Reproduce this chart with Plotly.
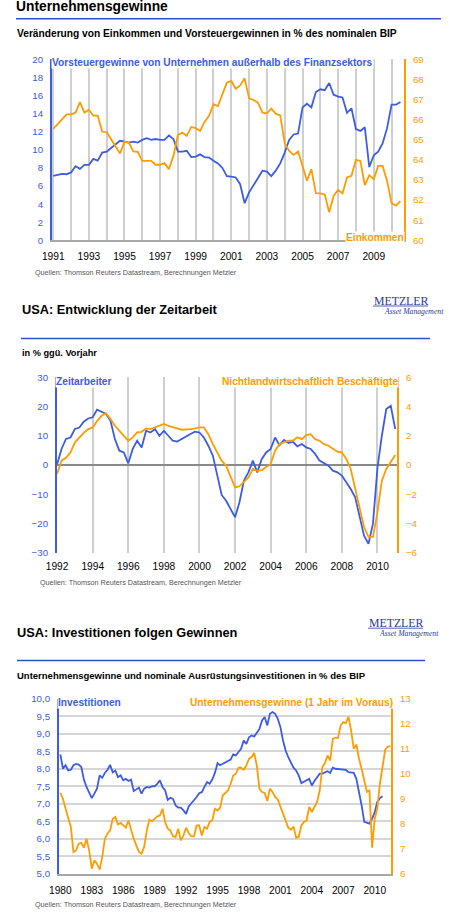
import pandas as pd
import plotly.graph_objects as go

W, H = 458, 919
BLUE = "#3d5ce0"
ORANGE = "#ff9c00"
RULE = "#3050c8"
GRID = "#cfcfcf"
FONT = "Liberation Sans, Arial, sans-serif"
SERIF = "Liberation Serif, Times New Roman, serif"

# --- Chart 1: Unternehmensgewinne (quarterly from 1991 Q1)
p1_start = "1991-01-01"
p1_gewinne = [7.13, 7.2, 7.35, 7.3, 7.5, 8.2, 7.9, 8.35, 8.35, 9.0, 8.8, 9.7, 9.8, 10.2, 10.6, 11.0,
              10.9, 10.8, 10.9, 10.8, 11.1, 11.3, 11.1, 11.2, 11.1, 11.1, 11.6, 11.2, 9.8, 9.8, 9.9, 9.2,
              9.25, 9.5, 9.2, 9.15, 8.8, 8.5, 8.0, 7.1, 7.05, 6.95, 6.2, 4.1, 5.3, 6.1, 6.8, 7.7,
              7.6, 7.1, 7.7, 8.5, 9.7, 11.1, 11.7, 11.8, 14.7, 15.1, 14.7, 16.4, 16.7, 16.6, 17.4, 16.1,
              15.9, 15.8, 14.1, 14.6, 12.3, 12.1, 12.5, 8.1, 9.4, 9.8, 10.7, 12.4, 15.0, 15.0, 15.3]
p1_einkommen = [65.55, 65.78, 66.0, 66.27, 66.27, 66.35, 66.88, 66.35, 66.5, 66.2, 66.2, 65.4, 65.38, 65.03,
                64.7, 64.32, 64.9, 64.86, 64.42, 64.4, 63.95, 63.95, 63.95, 63.76, 63.76, 63.84, 63.54, 64.2,
                65.24, 65.36, 65.2, 65.64, 65.58, 65.44, 65.89, 66.19, 66.77, 66.68, 67.26, 67.84, 67.93,
                67.54, 67.71, 68.06, 67.06, 66.98, 66.85, 66.35, 66.32, 66.55, 66.3, 66.22, 64.83, 64.45,
                64.25, 64.42, 63.7, 62.96, 63.54, 62.35, 62.33, 62.28, 61.39, 62.22, 62.51, 62.33, 63.13,
                63.21, 64.0, 63.95, 62.75, 63.24, 63.04, 63.7, 63.7, 62.96, 61.85, 61.72, 61.95]

# --- Chart 2: Zeitarbeit (quarterly from 1992 Q1)
p2_start = "1992-01-01"
p2_zeitarbeit = [0.3, 5.5, 8.9, 9.4, 12.3, 12.8, 14.8, 15.9, 16.3, 18.9, 18.2, 17.4, 15.1, 8.9, 4.9, 4.3,
                 0.6, 5.5, 8.3, 6.0, 11.7, 11.1, 12.3, 10.0, 11.7, 10.0, 8.3, 8.0, 8.9, 10.0, 10.6, 11.4,
                 11.1, 9.4, 6.6, 3.2, -3.6, -10.2, -12.2, -15.0, -17.8, -12.7, -5.3, -2.5, 1.5, -2.5, 2.0, 4.3,
                 5.5, 9.4, 6.8, 8.6, 7.5, 8.0, 6.4, 7.2, 6.0, 5.5, 3.8, 1.5, 0.7, -0.2, -1.9, -2.5,
                 -3.6, -5.9, -8.2, -11.0, -17.3, -24.1, -26.9, -20.0, -1.0, 10.0, 19.1, 20.2, 12.3]
p2_beschaeftigte = [-0.6, 0.3, 0.5, 0.86, 1.55, 1.9, 2.2, 2.45, 2.57, 3.0, 3.36, 3.52, 3.14, 2.68, 2.34, 2.05,
                    1.66, 1.89, 2.23, 2.27, 2.5, 2.45, 2.57, 2.68, 2.8, 2.68, 2.57, 2.5, 2.41, 2.41, 2.45, 2.5,
                    2.57, 2.57, 2.11, 1.43, 0.86, 0.3, -0.05, -0.73, -1.52, -1.45, -1.18, -0.84, -0.27, -0.39,
                    -0.34, -0.16, 0.07, 0.98, 1.43, 1.55, 1.66, 1.66, 1.89, 1.77, 2.05, 2.11, 1.77, 1.66,
                    1.43, 1.32, 1.09, 0.91, 0.86, 0.41, -0.27, -1.64, -3.0, -4.25, -4.9, -4.9, -3.23, -1.07,
                    -0.27, 0.18, 0.68]

# --- Chart 3: Investitionen vs. Gewinne (quarterly from 1980 Q1)
p3_start = "1980-01-01"
p3_invest = [8.41, 8.0, 8.1, 7.95, 7.97, 8.1, 8.14, 8.12, 8.05, 7.69, 7.48, 7.3, 7.16, 7.29, 7.43, 7.81,
             7.74, 7.88, 7.97, 8.11, 7.9, 7.95, 7.76, 7.81, 7.67, 7.71, 7.65, 7.69, 7.36, 7.41, 7.46, 7.29,
             7.43, 7.48, 7.46, 7.5, 7.5, 7.57, 7.67, 7.48, 7.38, 7.11, 7.17, 7.14, 6.95, 6.89, 6.89, 6.81,
             6.71, 6.92, 7.0, 7.1, 7.19, 7.3, 7.33, 7.48, 7.62, 7.57, 7.69, 7.88, 8.16, 8.1, 8.14, 8.2,
             8.24, 8.26, 8.41, 8.38, 8.48, 8.57, 8.81, 8.71, 8.9, 8.95, 8.92, 9.05, 9.14, 9.38, 9.48, 9.24,
             9.57, 9.62, 9.57, 9.43, 9.19, 8.81, 8.52, 8.33, 8.16, 8.03, 7.95, 7.81, 7.59, 7.62, 7.67, 7.71,
             7.52, 7.65, 7.76, 7.86, 7.86, 7.9, 7.93, 7.88, 8.03, 8.0, 7.99, 7.99, 7.97, 7.97, 7.9, 7.88,
             7.88, 7.71, 7.38, 6.95, 6.48, 6.45, 6.43, 6.57, 6.76, 7.05, 7.16, 7.21]
p3_gewinne = [9.23, 9.0, 8.6, 8.27, 7.87, 6.87, 6.93, 7.2, 7.23, 7.04, 7.4, 6.93, 6.2, 6.53, 6.4, 6.16,
              6.67, 7.4, 7.6, 7.73, 8.2, 8.27, 7.97, 8.03, 7.93, 7.84, 8.13, 7.73, 7.4, 7.13, 6.87, 6.8,
              7.07, 7.73, 8.16, 8.1, 8.2, 8.29, 8.33, 8.6, 8.07, 7.8, 7.73, 7.49, 7.47, 7.8, 7.33, 7.53,
              7.84, 7.63, 7.49, 7.49, 7.93, 7.93, 7.53, 7.87, 7.8, 8.07, 8.13, 8.6, 8.53, 8.64, 9.13, 9.23,
              9.33, 9.6, 9.93, 10.0, 10.24, 10.24, 10.16, 10.33, 10.6, 10.67, 10.83, 10.33, 9.4, 9.27, 9.23, 8.91,
              9.4, 9.27, 9.07, 8.96, 8.67, 8.4, 8.13, 7.84, 7.76, 7.89, 7.44, 7.47, 7.93, 8.07, 8.13, 8.67,
              8.47, 8.67, 8.87, 9.33, 10.27, 10.43, 10.73, 10.53, 11.4, 11.44, 11.44, 11.93, 12.07, 12.03, 12.29, 11.73,
              11.0, 11.17, 10.6, 10.2, 9.73, 9.27, 9.33, 7.04, 8.2, 8.6, 9.6, 10.33, 10.96, 11.09, 11.1]

d1 = pd.date_range(p1_start, periods=len(p1_gewinne), freq="QS")
d2 = pd.date_range(p2_start, periods=len(p2_zeitarbeit), freq="QS")
d3i = pd.date_range(p3_start, periods=len(p3_invest), freq="QS")
d3g = pd.date_range(p3_start, periods=len(p3_gewinne), freq="QS")

# the photographed page comes out slightly shrunk and shifted (measured with edge marks),
# so target pixel positions are mapped back before they go into paper coordinates
OX, SX = 11.0, 0.976
OY, SY = 6.5, 0.989


def px(x):
    return (x - OX) / SX / W


def py(y):
    return 1 - (y - OY) / SY / H


def fs(size):
    return round(size / SX, 1)


fig = go.Figure()
line_w = 1.8
fig.add_trace(go.Scatter(x=d1, y=p1_gewinne, mode="lines", line=dict(color=BLUE, width=line_w), xaxis="x", yaxis="y"))
fig.add_trace(go.Scatter(x=d1, y=p1_einkommen, mode="lines", line=dict(color=ORANGE, width=line_w), xaxis="x", yaxis="y2"))
fig.add_trace(go.Scatter(x=d2, y=p2_zeitarbeit, mode="lines", line=dict(color=BLUE, width=line_w), xaxis="x2", yaxis="y3"))
fig.add_trace(go.Scatter(x=d2, y=p2_beschaeftigte, mode="lines", line=dict(color=ORANGE, width=line_w), xaxis="x2", yaxis="y4"))
fig.add_trace(go.Scatter(x=d3i, y=p3_invest, mode="lines", line=dict(color=BLUE, width=line_w), xaxis="x3", yaxis="y5"))
fig.add_trace(go.Scatter(x=d3g, y=p3_gewinne, mode="lines", line=dict(color=ORANGE, width=line_w), xaxis="x3", yaxis="y6"))

xcommon = dict(type="date", tickformat="%Y", ticks="", zeroline=False,
               tickfont=dict(size=fs(10), color="black", family=FONT), ticklabelstandoff=6)
lcommon = dict(ticks="", showline=True, linecolor=BLUE, linewidth=2, zeroline=False, showgrid=False,
               tickfont=dict(size=fs(9.5), color=BLUE, family=FONT), ticklabelstandoff=5)
rcommon = dict(ticks="", showline=True, linecolor=ORANGE, linewidth=2, zeroline=False, showgrid=False,
               side="right", tickfont=dict(size=fs(9.5), color=ORANGE, family=FONT), ticklabelstandoff=5)

fig.update_layout(
    width=W, height=H, margin=dict(l=0, r=0, t=0, b=0),
    paper_bgcolor="white", plot_bgcolor="white", showlegend=False,
    separators=",.", font=dict(family=FONT),
    xaxis=dict(xcommon, domain=[px(52), px(404)], anchor="y",
               range=["1990-12-06", "2010-09-13"], tick0="1991-01-01", dtick="M24",
               showgrid=True, gridcolor=GRID, gridwidth=1.5,
               minor=dict(dtick="M12", showgrid=True, gridcolor=GRID, gridwidth=1.5),
               showline=True, linecolor="#a8a8a8", linewidth=1.5),
    yaxis=dict(lcommon, domain=[py(241), py(60)], anchor="x", range=[0, 20], dtick=2),
    yaxis2=dict(rcommon, overlaying="y", anchor="x", range=[60, 69], dtick=1),
    xaxis2=dict(xcommon, domain=[px(57), px(397)], anchor="y3",
                range=["1991-12-30", "2011-02-06"], tick0="1992-01-01", dtick="M24",
                showgrid=True, gridcolor=GRID, gridwidth=1.5, showline=False),
    yaxis3=dict(lcommon, domain=[py(554), py(378)], anchor="x2", range=[-30, 30], dtick=10,
                zeroline=True, zerolinecolor="#8a8a8a", zerolinewidth=1.5),
    yaxis4=dict(rcommon, overlaying="y3", anchor="x2", range=[-6, 6], dtick=2),
    xaxis3=dict(xcommon, domain=[px(59), px(391)], anchor="y5",
                range=["1979-11-15", "2011-07-22"], tick0="1980-01-01", dtick="M36",
                showgrid=False, showline=True, linecolor="#a8a8a8", linewidth=1.5),
    yaxis5=dict(lcommon, domain=[py(875), py(700)], anchor="x3", range=[5, 10], dtick=0.5,
                tickformat=".1f", showgrid=True, gridcolor="#d6d6d6", gridwidth=2),
    yaxis6=dict(rcommon, overlaying="y5", anchor="x3", range=[6, 13], dtick=1),
)

# horizontal rules under the headings
for x0, x1, y in [(16, 441, 19.3), (21, 430, 339.3), (17, 425, 661.7)]:
    fig.add_shape(type="line", xref="paper", yref="paper", x0=px(x0), x1=px(x1), y0=py(y), y1=py(y),
                  line=dict(color=RULE, width=1.6))
# logo underline
for x0, x1, y in [(373, 428, 306.8), (368, 423, 629.3)]:
    fig.add_shape(type="line", xref="paper", yref="paper", x0=px(x0), x1=px(x1), y0=py(y), y1=py(y),
                  line=dict(color="#2b3c9a", width=0.8))


def text(t, x, y, size, color="black", bold=False, anchor="left", bg=None, family=FONT, italic=False):
    s = "<b>%s</b>" % t if bold else t
    if italic:
        s = "<i>%s</i>" % s
    fig.add_annotation(text=s, xref="paper", yref="paper", x=px(x), y=py(y), xanchor=anchor,
                       yanchor="middle", showarrow=False, font=dict(size=fs(size), color=color, family=family),
                       bgcolor=bg, borderpad=0)


SRC = "Quellen: Thomson Reuters Datastream, Berechnungen Metzler"

# chart 1 texts
text("Unternehmensgewinne", 15, 7, 13.5, bold=True)
text("Veränderung von Einkommen und Vorsteuergewinnen in % des nominalen BIP", 16, 34.5, 10, bold=True)
text("Vorsteuergewinne von Unternehmen außerhalb des Finanzsektors", 51, 63, 10, BLUE, True, bg="white")
text("Einkommen", 405, 238.5, 10, ORANGE, True, anchor="right", bg="white")
text(SRC, 34, 273, 7, "#555555")

# chart 2 texts
text("USA: Entwicklung der Zeitarbeit", 21, 310.7, 12.5, bold=True)
text("METZLER", 373, 301.5, 11.5, "#2b3c9a", family=SERIF)
text("Asset Management", 445, 312.3, 7.5, "#2b3c9a", anchor="right", family=SERIF, italic=True)
text("in % ggü. Vorjahr", 21, 354, 9, bold=True)
text("Zeitarbeiter", 55, 382, 10, BLUE, True, bg="white")
text("Nichtlandwirtschaftlich Beschäftigte", 399, 382, 10, ORANGE, True, anchor="right", bg="white")
text(SRC, 39, 584, 7, "#555555")

# chart 3 texts
text("USA: Investitionen folgen Gewinnen", 16, 633.3, 12.5, bold=True)
text("METZLER", 368, 624, 11.5, "#2b3c9a", family=SERIF)
text("Asset Management", 440, 634.3, 7.5, "#2b3c9a", anchor="right", family=SERIF, italic=True)
text("Unternehmensgewinne und nominale Ausrüstungsinvestitionen in % des BIP", 16, 676.7, 9.3, bold=True)
text("Investitionen", 57, 704, 10, BLUE, True, bg="white")
text("Unternehmensgewinne (1 Jahr im Voraus)", 394, 704, 10, ORANGE, True, anchor="right", bg="white")
text(SRC, 34, 906, 7, "#555555")

# page has a default 8px body margin; drop it so the figure sits at the window origin
fig.write_html("out.html", config={"displayModeBar": False},
               post_script="document.body.style.margin='0';")
